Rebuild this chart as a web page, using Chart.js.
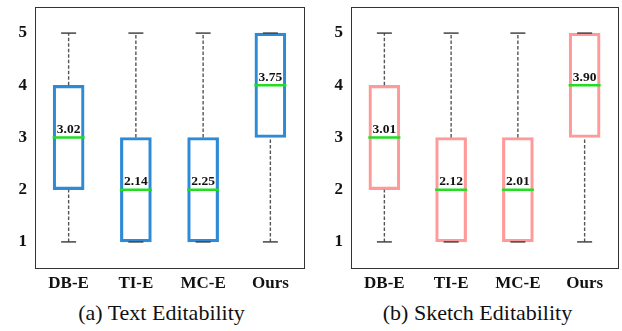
<!DOCTYPE html>
<html>
<head>
  <meta charset="UTF-8" />
  <title>Editability Box Plots</title>
  <script src="https://cdn.jsdelivr.net/npm/chart.js"></script>
  <style>
    body { margin: 0; background: #fff; width: 622px; height: 331px; position: relative; overflow: hidden; }
    .panel { position: absolute; top: 0; width: 311px; height: 300px; }
    .caption { position: absolute; top: 300px; font-family: "Liberation Serif", "Times New Roman", serif; font-size: 22px; text-align: center; color: #111; width: 311px; }
  </style>
</head>
<body>
  <div class="panel" style="left:0"><canvas id="textChart" width="311" height="300"></canvas></div>
  <div class="panel" style="left:311px"><canvas id="sketchChart" width="311" height="300"></canvas></div>
  <div class="caption" style="left:6px">(a) Text Editability</div>
  <div class="caption" style="left:322px">(b) Sketch Editability</div>
  <script>
    const categories = ['DB-E', 'TI-E', 'MC-E', 'Ours'];
    const yTicks = [1, 2, 3, 4, 5];

    // Text editability scores
    const textMin = [1, 1, 1, 1];
    const textQ1 = [2, 1, 1, 3];
    const textMedian = [3, 2, 2, 4];
    const textQ3 = [4, 3, 3, 5];
    const textMax = [5, 5, 5, 5];
    const textMean = [3.02, 2.14, 2.25, 3.75];

    // Sketch editability scores
    const sketchMin = [1, 1, 1, 1];
    const sketchQ1 = [2, 1, 1, 3];
    const sketchMedian = [3, 2, 2, 4];
    const sketchQ3 = [4, 3, 3, 5];
    const sketchMax = [5, 5, 5, 5];
    const sketchMean = [3.01, 2.12, 2.01, 3.90];

    const serif = '"Liberation Serif", "Times New Roman", serif';

    // draws the full frame around the plot
    const framePlugin = {
      id: 'frame',
      afterDatasetsDraw(chart) {
        const a = chart.chartArea, ctx = chart.ctx;
        ctx.save();
        ctx.strokeStyle = '#333';
        ctx.lineWidth = 1;
        ctx.strokeRect(Math.round(a.left) + 0.5, Math.round(a.top) + 0.5,
          Math.round(a.right - a.left), Math.round(a.bottom - a.top));
        ctx.restore();
      }
    };

    // mean value written above each median line
    const meanLabelPlugin = {
      id: 'meanLabels',
      afterDatasetsDraw(chart, args, opts) {
        const ctx = chart.ctx;
        const x = chart.scales.x, y = chart.scales.y;
        ctx.save();
        ctx.font = 'bold 13.5px ' + serif;
        ctx.fillStyle = '#111';
        ctx.textAlign = 'center';
        ctx.textBaseline = 'bottom';
        opts.means.forEach((m, i) => {
          ctx.fillText(m.toFixed(2), x.getPixelForValue(i), y.getPixelForValue(opts.medians[i]) - 1);
        });
        ctx.restore();
      }
    };

    function noPad(axis) {
      axis.paddingTop = 0;
      axis.paddingBottom = 0;
      axis.paddingLeft = 0;
      axis.paddingRight = 0;
    }

    function makeChart(id, mins, q1, med, q3, maxs, means, color, yWidth, rightPad) {
      const whiskers = [];
      const caps = [];
      categories.forEach((c, i) => {
        whiskers.push({ x: c, y: q3[i] }, { x: c, y: maxs[i] }, { x: c, y: null });
        whiskers.push({ x: c, y: mins[i] }, { x: c, y: q1[i] }, { x: c, y: null });
        caps.push({ x: c, y: mins[i] }, { x: c, y: maxs[i] });
      });

      return new Chart(document.getElementById(id), {
        type: 'bar',
        data: {
          labels: categories,
          datasets: [
            {
              type: 'bar',
              data: categories.map((c, i) => [q1[i], q3[i]]),
              backgroundColor: 'rgba(255,255,255,0)',
              borderColor: color,
              borderWidth: 2.5,
              borderSkipped: false,
              barThickness: 31,
              order: 3
            },
            {
              type: 'line',
              data: whiskers,
              borderColor: '#555',
              borderWidth: 1.4,
              borderDash: [3.5, 2],
              pointRadius: 0,
              spanGaps: false,
              order: 2
            },
            {
              type: 'line',
              data: caps,
              showLine: false,
              pointStyle: 'line',
              pointRadius: 7.5,
              pointBorderWidth: 1.5,
              pointBorderColor: '#444',
              order: 1
            },
            {
              type: 'line',
              data: categories.map((c, i) => ({ x: c, y: med[i] })),
              showLine: false,
              pointStyle: 'line',
              pointRadius: 16,
              pointBorderWidth: 2.5,
              pointBorderColor: '#22dd22',
              order: 0
            }
          ]
        },
        options: {
          responsive: false,
          animation: false,
          events: [],
          layout: { autoPadding: false, padding: { top: 7, right: rightPad, left: 0, bottom: 0 } },
          plugins: {
            legend: { display: false },
            tooltip: { enabled: false },
            meanLabels: { means: means, medians: med }
          },
          scales: {
            x: {
              grid: { display: false, drawTicks: true, tickLength: 4, tickColor: '#555' },
              border: { display: false },
              ticks: { font: { family: serif, size: 17, weight: 'bold' }, color: '#111', padding: 1 },
              afterFit(axis) { axis.height = 32; noPad(axis); }
            },
            y: {
              min: 0.5,
              max: 5.5,
              grid: { display: false, drawTicks: true, tickLength: 4, tickColor: '#555' },
              border: { display: false },
              afterBuildTicks(axis) { axis.ticks = yTicks.map(v => ({ value: v })); },
              ticks: { font: { family: serif, size: 17, weight: 'bold' }, color: '#111', padding: 4 },
              afterFit(axis) { axis.width = yWidth; noPad(axis); }
            }
          }
        },
        plugins: [framePlugin, meanLabelPlugin]
      });
    }

    makeChart('textChart', textMin, textQ1, textMedian, textQ3, textMax, textMean, '#2f8ad6', 35, 7);
    makeChart('sketchChart', sketchMin, sketchQ1, sketchMedian, sketchQ3, sketchMax, sketchMean, '#ff9a9a', 40, 4);
  </script>
</body>
</html>
